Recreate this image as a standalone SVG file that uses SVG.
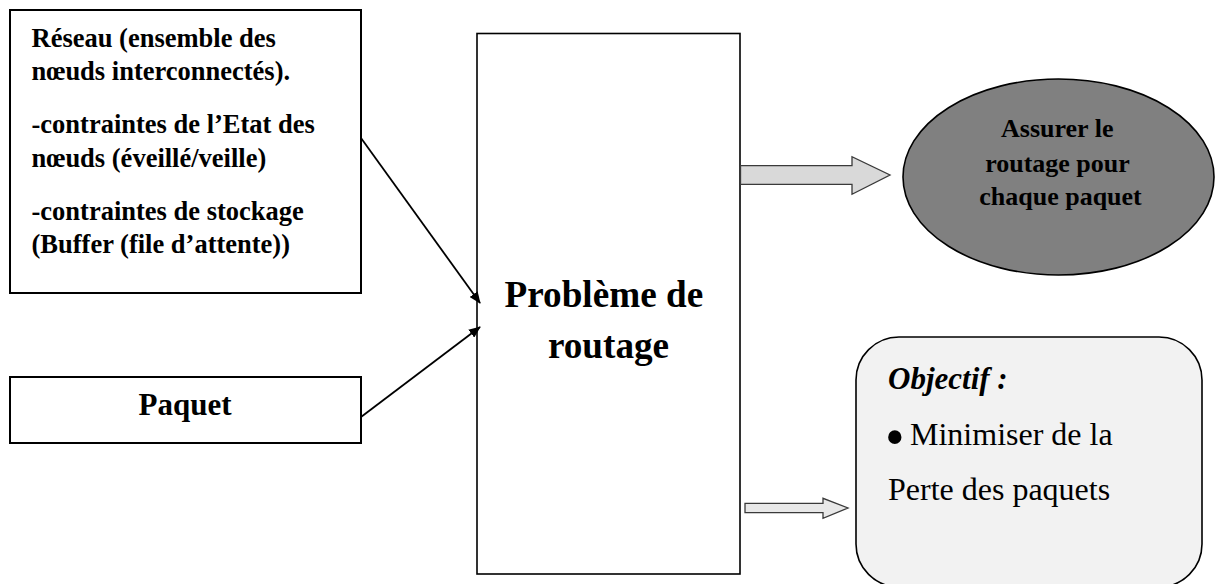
<svg xmlns="http://www.w3.org/2000/svg" width="1215" height="584" viewBox="0 0 1215 584">
  <style>
    .box { fill: #ffffff; stroke: #000000; stroke-width: 1.6; }
    .t { font-family: "Liberation Serif", "Times New Roman", serif; fill: #000000; }
    .b { font-weight: bold; }
    .link { stroke: #000000; stroke-width: 1.8; fill: none; marker-end: url(#head); }
    .fat { stroke: #3a3a3a; stroke-width: 1.3; stroke-linejoin: miter; }
  </style>
  <defs>
    <marker id="head" viewBox="0 0 12 10" refX="11" refY="5" markerWidth="12" markerHeight="10" markerUnits="userSpaceOnUse" orient="auto">
      <path d="M0,0 L12,5 L0,10 Z" fill="#000000"/>
    </marker>
  </defs>

  <rect width="1215" height="584" fill="#ffffff"/>

  <!-- Input: network and constraints -->
  <g id="reseau">
    <rect class="box" x="10" y="10" width="351" height="283" style="stroke-width:2"/>
    <text class="t b" font-size="26.5" x="31.5">
      <tspan x="31.5" y="46.7">Réseau (ensemble des</tspan>
      <tspan x="31.5" y="80">nœuds interconnectés).</tspan>
      <tspan x="31.5" y="133.3">-contraintes de l’Etat des</tspan>
      <tspan x="31.5" y="166.7">nœuds (éveillé/veille)</tspan>
      <tspan x="31.5" y="220">-contraintes de stockage</tspan>
      <tspan x="31.5" y="253.3">(Buffer (file d’attente))</tspan>
    </text>
  </g>

  <!-- Input: packet -->
  <g id="paquet">
    <rect class="box" x="10" y="377" width="351" height="66" style="stroke-width:2"/>
    <text class="t b" font-size="31" x="185" y="415" text-anchor="middle">Paquet</text>
  </g>

  <!-- Central problem -->
  <g id="probleme">
    <rect class="box" x="477" y="33.5" width="263" height="540.5"/>
    <text class="t b" font-size="37.2" text-anchor="middle">
      <tspan x="608.5" y="306.7">Problème de</tspan>
      <tspan x="608.5" y="357.5">routage</tspan>
    </text>
  </g>

  <!-- Result -->
  <g id="resultat">
    <ellipse cx="1058.5" cy="177" rx="155.5" ry="98" fill="#808080" stroke="#000000" stroke-width="1.6"/>
    <text class="t b" font-size="26" text-anchor="middle">
      <tspan x="1060.5" y="136.7">Assurer le</tspan>
      <tspan x="1060.5" y="171.7">routage pour</tspan>
      <tspan x="1060.5" y="205">chaque paquet</tspan>
    </text>
  </g>

  <!-- Objective -->
  <g id="objectif">
    <rect x="856" y="337" width="346" height="250" rx="43" ry="43" fill="#f2f2f2" stroke="#000000" stroke-width="1.6"/>
    <text class="t b" font-size="31" font-style="italic" x="888" y="389">Objectif :</text>
    <text class="t" font-size="56" x="885" y="456">•</text>
    <text class="t" font-size="32" x="910" y="445">Minimiser de la</text>
    <text class="t" font-size="32" x="888" y="500">Perte des paquets</text>
  </g>

  <!-- Connectors -->
  <g id="connecteurs">
    <line class="link" x1="361" y1="138" x2="480" y2="303"/>
    <line class="link" x1="361" y1="417" x2="480" y2="327"/>
    <path class="fat" fill="#d9d9d9" d="M740.5,165.7 L852,165.7 L852,156.7 L890,175 L852,194.3 L852,184.3 L740.5,184.3 Z"/>
    <path class="fat" fill="#e8e8e8" d="M745,503.3 L823,503.3 L823,498.3 L848,508 L823,518.3 L823,512.7 L745,512.7 Z"/>
  </g>
</svg>
